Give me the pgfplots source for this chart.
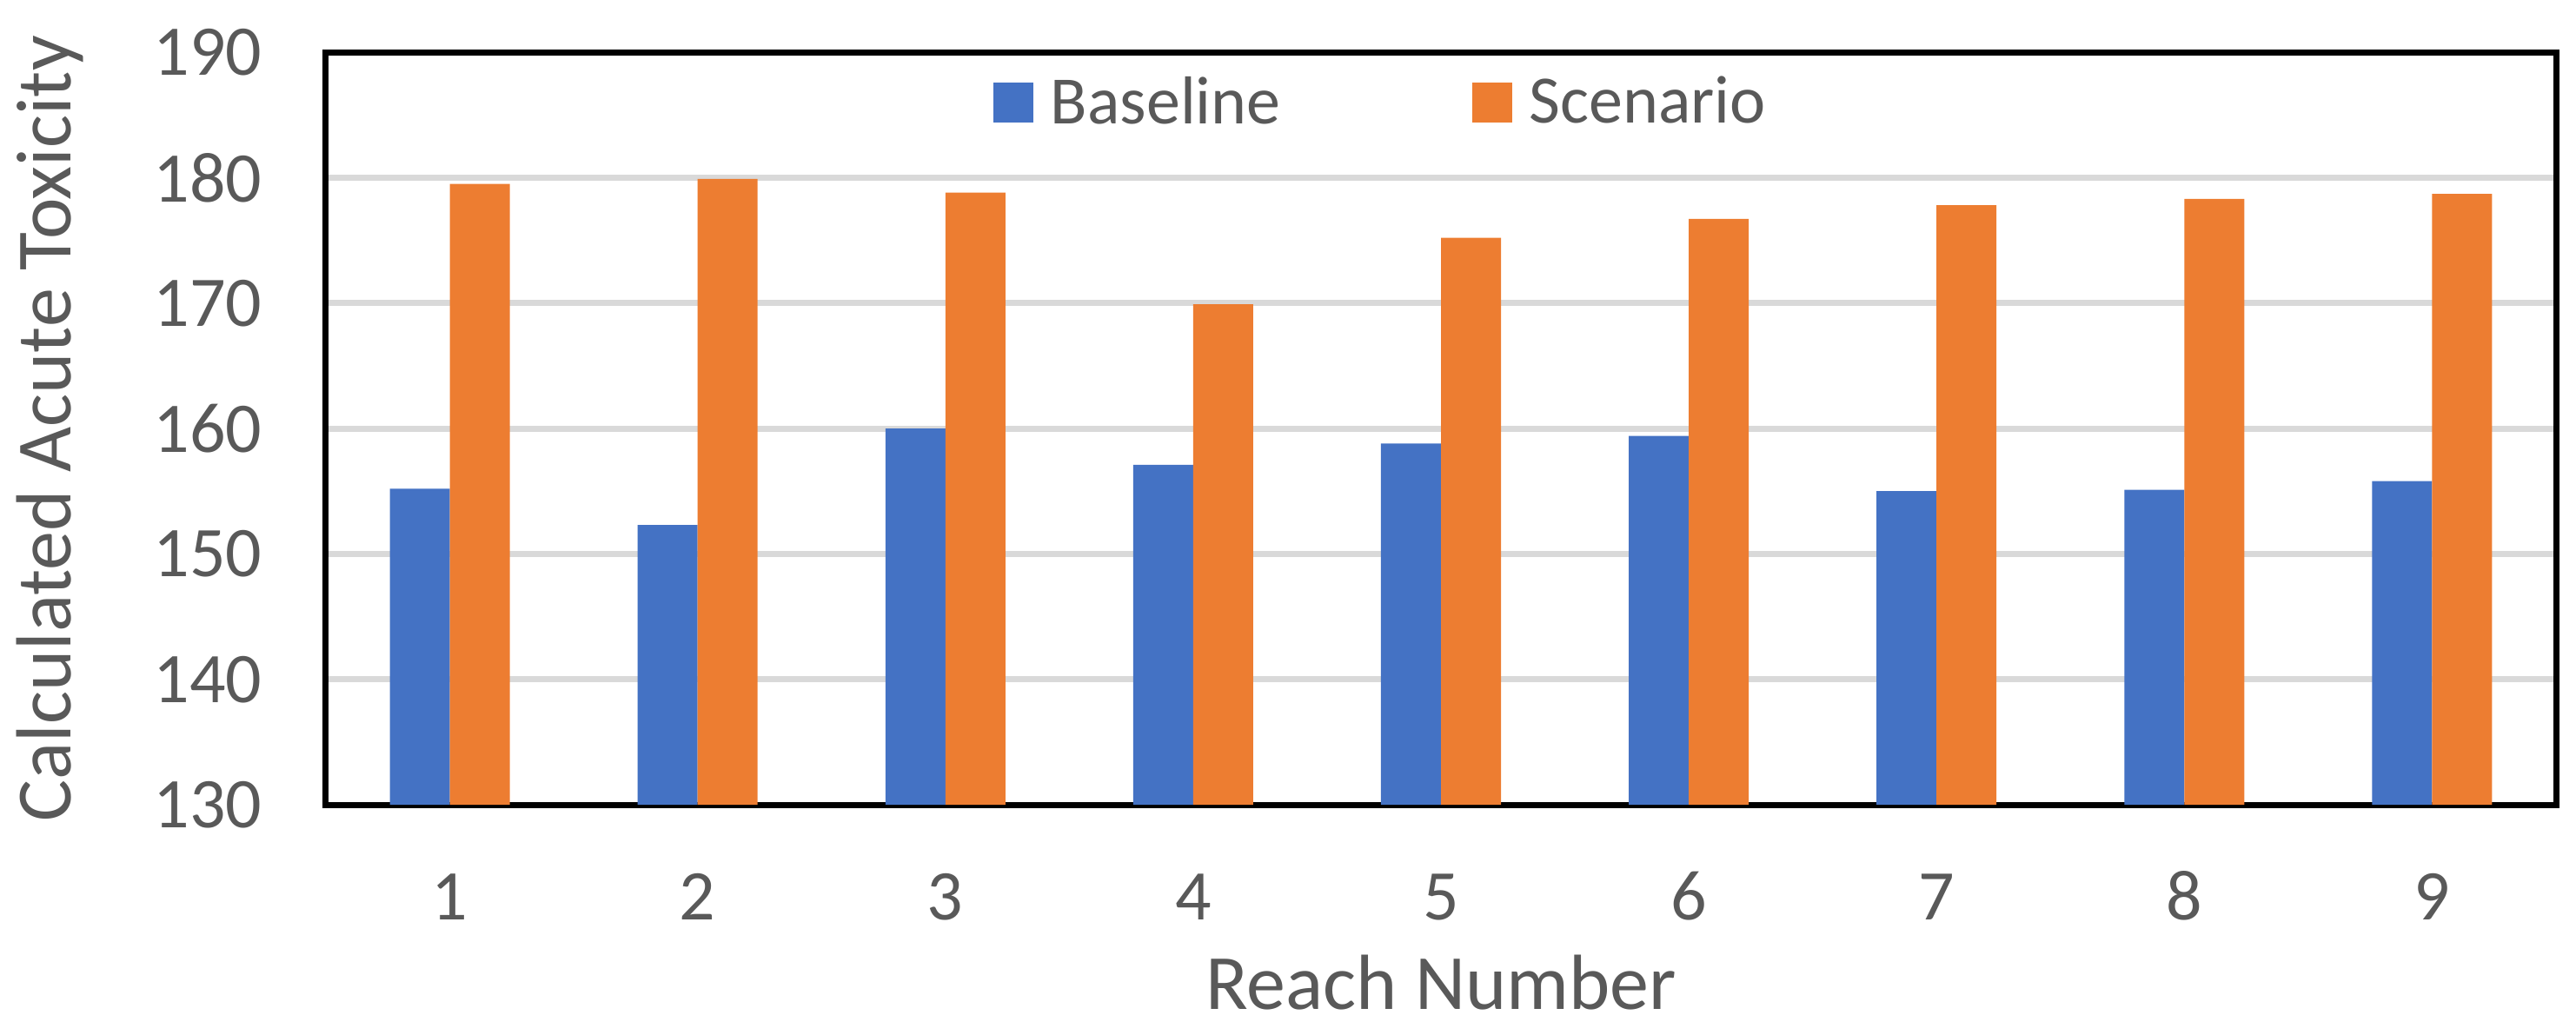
\documentclass[border=0pt]{standalone}
\usepackage{fontspec}
\setmainfont{Carlito}
\usepackage{pgfplots}
\pgfplotsset{compat=1.18}
\definecolor{baseblue}{RGB}{68,114,196}
\definecolor{scenorange}{RGB}{237,125,49}
\definecolor{gridgray}{RGB}{217,217,217}
\definecolor{textgray}{RGB}{89,89,89}

\begin{document}
\begin{tikzpicture}
\useasboundingbox (-93.75pt,-66pt) rectangle (647.25pt,231.5pt);
\begin{axis}[
    at={(0pt,0pt)}, anchor=south west,
    scale only axis,
    width=641.5pt,
    height=216.5pt,
    ybar=0pt,
    bar width=17.25pt,
    xmin=0.5, xmax=9.5,
    ymin=130, ymax=190,
    xtick={1,...,9},
    ytick={130,140,...,190},
    major tick length=0pt,
    ymajorgrids,
    grid style={gridgray, line width=1.75pt},
    axis line style={black, line width=1.75pt},
    /pgf/number format/assume math mode=true,
    tick label style={font=\fontsize{20.5}{24}\selectfont, text=textgray},
    xticklabel style={anchor=base, yshift=-33pt},
    yticklabel style={anchor=east, inner sep=0pt, xshift=-18.25pt},
    xlabel={Reach Number},
    ylabel={Calculated Acute Toxicity},
    label style={font=\fontsize{22.5}{27}\selectfont, text=textgray},
    xlabel style={at={(axis description cs:0.5,-0.2714)}, anchor=base},
    ylabel style={at={(axis description cs:-0.1239,0.5)}, anchor=center, inner sep=0pt},
    legend columns=2,
    legend style={at={(axis description cs:0.2993,0.933)}, anchor=west,
        draw=none, fill=none, inner sep=0pt, outer sep=0pt,
        font=\fontsize{19.5}{23}\selectfont, text=textgray,
        nodes={inner sep=0pt},
        /tikz/every odd column/.append style={column sep=5pt},
        /tikz/every even column/.append style={column sep=55pt}},
]
\addplot[fill=baseblue, draw=none,
    legend image code/.code={\fill[baseblue] (0pt,-5.75pt) rectangle (11.5pt,5.75pt);}]
    coordinates {
    (1,155.2) (2,152.3) (3,160.0) (4,157.1) (5,158.8)
    (6,159.4) (7,155.0) (8,155.1) (9,155.8)
};
\addlegendentry{Baseline}
\addplot[fill=scenorange, draw=none,
    legend image code/.code={\fill[scenorange] (0pt,-5.75pt) rectangle (11.5pt,5.75pt);}]
    coordinates {
    (1,179.5) (2,179.9) (3,178.8) (4,169.9) (5,175.2)
    (6,176.7) (7,177.8) (8,178.3) (9,178.7)
};
\addlegendentry{Scenario}
\end{axis}
\end{tikzpicture}
\end{document}
